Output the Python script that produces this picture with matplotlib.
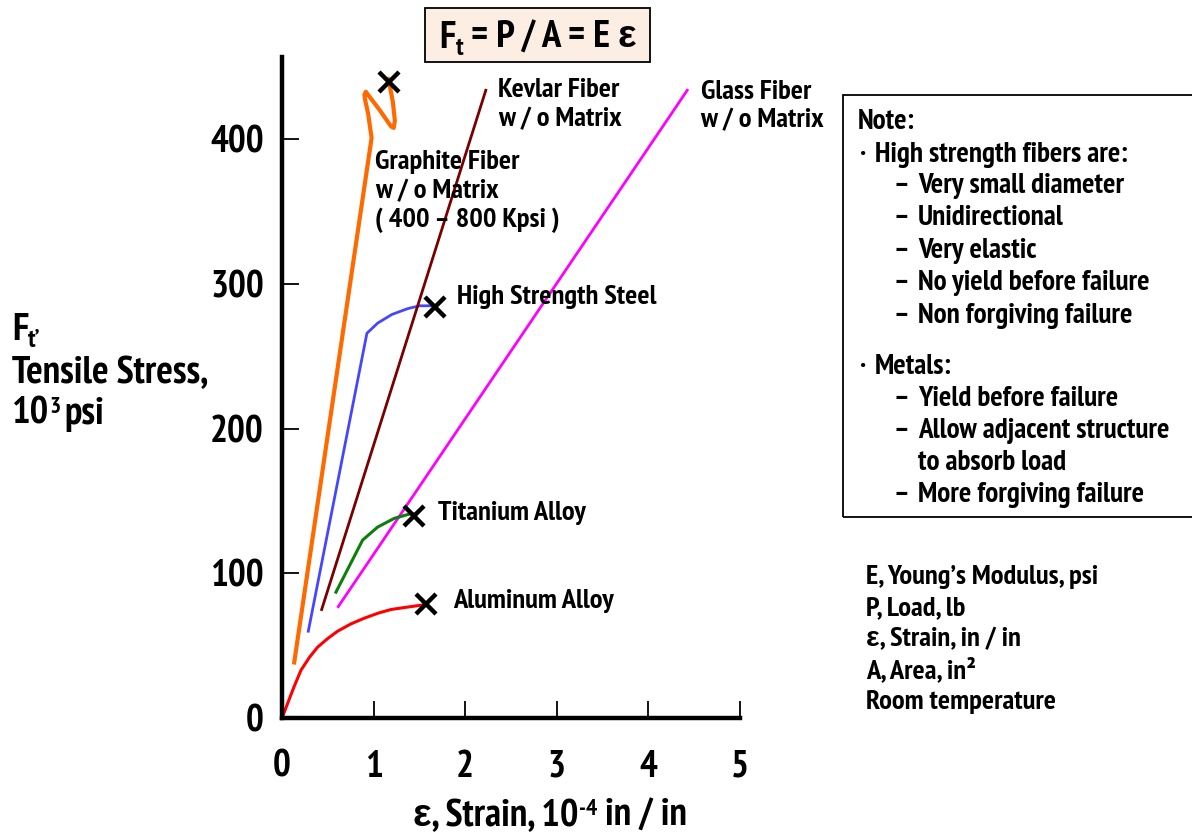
import matplotlib
matplotlib.use("Agg")
import matplotlib.pyplot as plt
from matplotlib.patches import Rectangle

plt.rcParams["font.family"] = ["Liberation Sans Narrow", "PT Sans Narrow", "Liberation Sans", "DejaVu Sans"]
plt.rcParams["font.weight"] = "bold"

# strain (10^-4 in/in) vs tensile stress (10^3 psi)
graphite_x = [0.13, 0.978, 0.94, 0.905, 0.90, 0.915, 0.95, 1.07, 1.19, 1.22, 1.232, 1.21, 1.18, 1.153]
graphite_y = [37, 401, 418, 428, 431, 433, 430, 420, 409, 408, 413, 426, 436, 443]
kevlar_x = [0.433, 2.225]
kevlar_y = [75, 434]
glass_x = [0.614, 4.424]
glass_y = [77, 434]
steel_x = [0.287, 0.927, 1.044, 1.2, 1.371, 1.5, 1.63]
steel_y = [60, 266, 273, 279, 283, 285, 285]
titanium_x = [0.589, 0.88, 1.044, 1.225, 1.39, 1.44]
titanium_y = [87, 123, 132, 138, 141, 141]
aluminum_x = [0.0, 0.134, 0.207, 0.30, 0.389, 0.5, 0.607, 0.75, 0.898, 1.05, 1.189, 1.35, 1.52, 1.57]
aluminum_y = [0, 22, 33, 42, 49, 55, 60, 65, 69, 72.5, 75, 76.5, 78, 78.5]

# failure points (x marks)
fail_x = [1.167, 1.668, 1.44, 1.57]
fail_y = [440, 284, 140, 79]

x_ticks = [0, 1, 2, 3, 4, 5]
y_ticks = [0, 100, 200, 300, 400]

note_lines = [
    ("Note:", 858, 121),
    ("\u00b7", 860, 154), ("High strength fibers are:", 875, 154),
    ("\u2013", 893, 185), ("Very small diameter", 918, 185),
    ("\u2013", 893, 217), ("Unidirectional", 918, 217),
    ("\u2013", 893, 250), ("Very elastic", 918, 250),
    ("\u2013", 893, 282), ("No yield before failure", 918, 282),
    ("\u2013", 893, 315), ("Non forgiving failure", 918, 315),
    ("\u00b7", 860, 366), ("Metals:", 875, 366),
    ("\u2013", 893, 398), ("Yield before failure", 918, 398),
    ("\u2013", 893, 430), ("Allow adjacent structure", 918, 430),
    ("to absorb load", 918, 462),
    ("\u2013", 893, 494), ("More forgiving failure", 918, 494),
]
legend_lines = ["E, Young\u2019s Modulus, psi", "P, Load, lb", "\u03b5, Strain, in / in",
                "A, Area, in\u00b2", "Room temperature"]

W, H = 1192, 833
fig = plt.figure(figsize=(W / 100, H / 100), dpi=100)
ax = fig.add_axes([282 / W, 1 - 718 / H, (740 - 282) / W, (718 - 57) / H])
renderer = fig.canvas.get_renderer()


def ftext(px, py, s, **kw):
    return fig.text(px / W, 1 - py / H, s, **kw)


def run_text(px, py, pieces, ha="left", **kw):
    # lay out (text, size, dy) pieces side by side on one baseline at py
    x = px
    objs = []
    for s, size, dy in pieces:
        t = ftext(x, py + dy, s, fontsize=size, ha="left", va="baseline", **kw)
        x += t.get_window_extent(renderer).width
        objs.append(t)
    if ha == "center":
        shift = (x - px) / 2
        for t in objs:
            tx, ty = t.get_position()
            t.set_position((tx - shift / W, ty))


ax.plot(graphite_x, graphite_y, color="#ff6a00", lw=3.0, solid_capstyle="butt")
ax.plot(steel_x, steel_y, color="#4646ff", lw=2.0)
ax.plot(kevlar_x, kevlar_y, color="#7a0000", lw=2.0)
ax.plot(glass_x, glass_y, color="#ff00ff", lw=2.0)
ax.plot(titanium_x, titanium_y, color="#0a7f0a", lw=2.2)
ax.plot(aluminum_x, aluminum_y, color="#ff0000", lw=2.2)
ax.plot(fail_x, fail_y, ls="none", marker="x", color="black", ms=14, mew=3.2, clip_on=False)

ax.set_xlim(0, 5)
ax.set_ylim(0, 457)
ax.set_xticks(x_ticks)
ax.set_yticks(y_ticks)
ax.spines[["top", "right"]].set_visible(False)
for sp in ["left", "bottom"]:
    ax.spines[sp].set_linewidth(3.2)
ax.tick_params(direction="in", length=12, width=1.3, labelsize=27)
ax.tick_params(axis="x", pad=23)
ax.tick_params(axis="y", pad=13)

lab = dict(fontsize=20.5, ha="left", va="center", linespacing=1.25)
ax.text(2.355, 424, "Kevlar Fiber\nw / o Matrix", **lab)
ax.text(4.569, 423, "Glass Fiber\nw / o Matrix", **lab)
ax.text(1.014, 364, "Graphite Fiber\nw / o Matrix\n( 400 \u2013 800 Kpsi )", **lab)
ax.text(1.908, 291, "High Strength Steel", **lab)
ax.text(1.701, 142, "Titanium Alloy", **lab)
ax.text(1.865, 81, "Aluminum Alloy", **lab)

# title formula box
fig.patches.append(Rectangle((425 / W, 1 - 62 / H), (650 - 425) / W, (62 - 8) / H,
                             transform=fig.transFigure, fc="#fdeee4", ec="black", lw=1.3))
run_text(538, 48, [("F", 28, 0), ("t", 19, 7), (" = P / A = E \u03b5", 28, 0)], ha="center")

# axis titles
run_text(12, 340, [("F", 28, 0), ("t\u2019", 19, 7)])
ftext(12, 383, "Tensile Stress,", fontsize=28, ha="left", va="baseline")
run_text(12, 424, [("10", 28, 0), ("3", 17, -11), (" ", 14, 0), ("psi", 28, 0)])
run_text(550, 826, [("\u03b5, Strain, 10", 28, 0), ("-4", 17, -11), (" in / in", 28, 0)], ha="center")

# note box
fig.patches.append(Rectangle((843 / W, 1 - 517 / H), (W + 10 - 843) / W, (517 - 95) / H,
                             transform=fig.transFigure, fill=False, ec="black", lw=1.3))
for s, px, py in note_lines:
    ftext(px, py + 8, s, fontsize=21, ha="left", va="baseline")

for i, s in enumerate(legend_lines):
    ftext(866, 584 + i * 31.3, s, fontsize=20.5, ha="left", va="baseline")

fig.savefig("out.png", dpi=100)
